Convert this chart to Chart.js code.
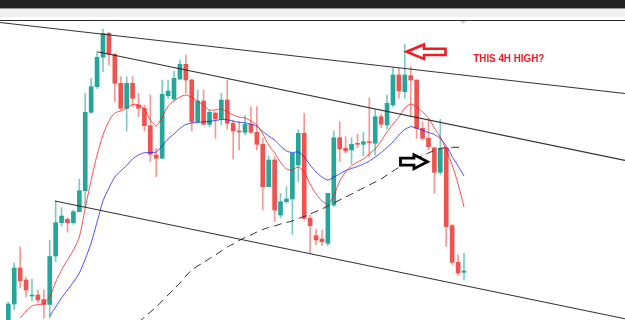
<!DOCTYPE html>
<html>
<head>
<meta charset="utf-8">
<script src="https://cdn.jsdelivr.net/npm/chart.js@4/dist/chart.umd.min.js"></script>
<style>
  body { margin: 0; background: #fff; }
  #wrap { position: relative; width: 625px; height: 320px; overflow: hidden; }
  #chart { position: absolute; left: 0; top: 0; }
  .hdr-dark { position: absolute; left: 0; top: 0; width: 625px; height: 8px; background: #232323; }
  .hdr-edge { position: absolute; left: 0; top: 8px; width: 625px; height: 1px; background: #9a9a9a; }
  .hdr-gray { position: absolute; left: 0; top: 9px; width: 625px; height: 8px; background: #efefef; }
  .hdr-line { position: absolute; left: 0; top: 20px; width: 625px; height: 1px; background: #2b2b2b; }
  .shift-mark { position: absolute; left: 460px; top: 21px; width: 0; height: 0;
    border-left: 3px solid transparent; border-right: 3px solid transparent; border-top: 3px solid #cfcfcf; }
</style>
</head>
<body>
<div id="wrap">
  <canvas id="chart" width="625" height="320"></canvas>
  <div class="hdr-dark"></div>
  <div class="hdr-edge"></div>
  <div class="hdr-gray"></div>
  <div class="hdr-line"></div>
  <div class="shift-mark"></div>
</div>
<script>
// price values in chart units (0 = bottom edge), one entry per 4H candle
const open = [-2, 16, 52, 40, 24, 25, 20.5, 15.5, 64, 97.3, 100.7, 97.3, 108.3, 129.3, 207.7, 233.3, 262.7, 286.7, 265.7, 236.7,
  211.7, 236.7, 215, 211.7, 194.3, 165, 161.7, 224.3, 221, 241, 255.7, 240, 198.3, 219, 195.7, 207, 201, 220, 196.7, 189,
  187.7, 195.7, 187.7, 175.7, 133.3, 160, 105, 118.3, 121, 155, 186.7, 101.7, 84.3, 81, 76.7, 115, 182.3, 171.7, 170, 176.3,
  175.7, 178.3, 176.7, 203.3, 195, 215, 245, 228.3, 244.3, 240, 191.7, 181.7, 172.3, 147.7, 171.7, 94.3, 57.7, 47.7];
const high = [18, 57, 73, 43, 41, 30, 30, 80, 119, 112.3, 102.3, 110, 141, 226.7, 241.7, 267.7, 291, 287.7, 266.7, 243.3,
  243.3, 243.3, 226.7, 215, 225, 171.7, 240, 240, 249, 260, 265, 241, 230, 230, 210, 207.7, 226.7, 240, 200, 198.3,
  204.3, 213.3, 213.3, 181.7, 164, 163.3, 126.7, 133.3, 166.7, 190, 206.7, 105, 91, 90, 126.7, 189, 198.3, 183.3, 182.3, 185.7,
  187.7, 222.3, 210, 205.7, 225, 252.3, 251.7, 275.7, 253.3, 240, 198.3, 200, 172.3, 200.7, 172.3, 95.7, 65, 66.7];
const low = [-4, 10, 32, 23, 19, 17, 2, 2, 58.3, 94, 87.7, 95.7, 108.3, 113.3, 206.7, 231.7, 248.3, 255, 218.3, 210,
  189, 213.3, 203.3, 189, 158.3, 143.3, 161.7, 221.7, 219, 240, 226.7, 189, 196.7, 195, 193.3, 181.7, 195, 191, 161, 170,
  185, 186.7, 170, 110, 133.3, 98.3, 102.3, 116.7, 85.7, 138.3, 100, 66.7, 75, 74.3, 74.3, 113.3, 158.3, 166.7, 155.7, 172.3,
  164.3, 163.3, 165, 192.3, 191, 213.3, 221.7, 221.7, 203.3, 181.7, 180, 170, 126.7, 145.7, 73.3, 55.7, 44.3, 40];
const close = [16, 52, 39, 30, 25, 20, 15.5, 63.5, 97.3, 104, 97.3, 108.3, 129.3, 207.7, 233.3, 262.7, 286.7, 265.7, 236.7, 211.7,
  236.7, 221.7, 211.7, 194.3, 165.7, 161.7, 225.7, 229, 241.7, 255.7, 240, 198.3, 219, 195.7, 207.7, 201, 220, 196.7, 189, 188,
  195.7, 187.7, 175.7, 133.3, 160, 110, 118.3, 121, 166.7, 186.7, 101.7, 94.3, 80, 78.3, 126.7, 182.3, 171, 169, 175.7, 175.7,
  178.3, 177.3, 203.3, 195.7, 216.7, 245, 229, 245, 240, 191.7, 181.7, 173.3, 147.7, 171.7, 93.3, 57.7, 47, 49];

// moving averages (null where not drawn)
const maFast = [null, null, 2, 9, 14, 15.5, 16.5, 23, 38, 50, 60, 70, 83, 112, 140, 165, 185, 199, 207, 209,
  212, 215.5, 215, 211, 200, 194, 203, 214, 219, 223, 225, 222.5, 219, 214.5, 210, 210, 211, 208, 205, 203,
  202, 199, 195, 186, 175, 167, 158, 151, 150, 153, 148, 136, 126, 119, 116, 124, 139, 148, 154, 158,
  161, 166, 171, 179, 188, 196, 203, 212, 216, 213, 208, 202, 192, 183, 170, 155, 136, 113];
const maSlow = [null, null, null, null, null, null, null, 4, 13, 22, 30, 38, 47, 61, 77, 98, 119, 132, 143, 149,
  154.5, 161, 165, 167.3, 167.3, 168, 174, 181, 186, 191.5, 195.5, 197, 197.7, 198.2, 198.7, 199.5, 200.5, 200.3, 198.8, 197.7,
  197.2, 196, 193.5, 188.5, 184, 180, 174, 169, 167.5, 168, 163, 155, 148, 143, 140, 143, 146, 149.5, 151.5, 153.5,
  156, 159, 163, 167.5, 172.5, 178, 185, 190.5, 193.3, 191.7, 189.7, 187.5, 185.5, 181.5, 174, 163.5, 154, 144];
const maLong = [null, null, null, null, null, null, null, null, null, null, null, null, null, null, null, null, null, null, null, null,
  null, null, -3, 3, 8, 13, 19, 25, 31, 37, 44, 50, 54, 57.5, 61.5, 65, 69, 73, 76, 79.5,
  82.5, 85, 88, 90.5, 92.5, 94, 96, 97.5, 99, 101.5, 103.5, 106, 108.5, 111, 114, 117, 120, 123, 126, 129,
  132, 135, 138, 141, 145, 149, 152.5, 155.5, 158.5, 161.5, 164.5, 167, 169.5, 171.5, 172.5, 172.7, 172.7, 172.7];

// hand drawn channel lines: [x1, y1, x2, y2] in candle index / price units
const trendLines = [
  [-1.4, 297.5, 104.2, 226.5],
  [15.04, 268.3, 104.2, 159.6],
  [7.89, 119, 104.2, 1.2]
];

// annotations (candle index, price)
const redArrowTip = [67.29, 268.3];
const blackArrowTip = [70.83, 158.3];
const noteAt = [78.57, 258.3];
const noteText = "THIS 4H HIGH?";

const UP = "#26a69a", DOWN = "#ef5350";
const UP_WICK = "rgba(38,166,154,0.6)", DOWN_WICK = "rgba(239,83,80,0.6)";

const isUp = open.map((o, i) => close[i] >= o);

const annotations = {
  id: "annotations",
  afterDatasetsDraw(chart) {
    const { ctx, scales: { x, y } } = chart;
    ctx.save();
    ctx.lineJoin = "miter";

    // red arrow, pointing left at the high
    let tx = x.getPixelForValue(redArrowTip[0]), ty = y.getPixelForValue(redArrowTip[1]);
    ctx.beginPath();
    ctx.moveTo(tx, ty);
    ctx.lineTo(tx + 17.5, ty - 7.2);
    ctx.lineTo(tx + 17.5, ty - 3);
    ctx.lineTo(tx + 39, ty - 3);
    ctx.lineTo(tx + 39, ty + 3.3);
    ctx.lineTo(tx + 17.5, ty + 3.3);
    ctx.lineTo(tx + 17.5, ty + 7.2);
    ctx.closePath();
    ctx.fillStyle = "#fff";
    ctx.fill();
    ctx.strokeStyle = "#ee1c25";
    ctx.lineWidth = 2.6;
    ctx.stroke();

    // black arrow, pointing right
    tx = x.getPixelForValue(blackArrowTip[0]); ty = y.getPixelForValue(blackArrowTip[1]);
    ctx.beginPath();
    ctx.moveTo(tx, ty);
    ctx.lineTo(tx - 13.5, ty - 7);
    ctx.lineTo(tx - 13.5, ty - 3.5);
    ctx.lineTo(tx - 27, ty - 3.5);
    ctx.lineTo(tx - 27, ty + 3.5);
    ctx.lineTo(tx - 13.5, ty + 3.5);
    ctx.lineTo(tx - 13.5, ty + 7);
    ctx.closePath();
    ctx.fill();
    ctx.strokeStyle = "#000";
    ctx.lineWidth = 2.8;
    ctx.stroke();

    // note text
    ctx.font = 'bold 11.5px "Liberation Sans", Arial, sans-serif';
    ctx.fillStyle = "#ee1c25";
    ctx.textBaseline = "alphabetic";
    const w = ctx.measureText(noteText).width;
    const nx = x.getPixelForValue(noteAt[0]), ny = y.getPixelForValue(noteAt[1]);
    ctx.translate(nx, ny);
    ctx.scale(71 / w, 1);
    ctx.fillText(noteText, 0, 0);
    ctx.restore();
  }
};

const pts = arr => arr.map((v, i) => ({ x: i, y: v }));
const lineStyle = { type: "line", pointRadius: 0, borderWidth: 1, tension: 0.25, fill: false };

new Chart(document.getElementById("chart"), {
  type: "bar",
  data: {
    datasets: [
      ...trendLines.map(t => ({
        ...lineStyle, tension: 0, order: 0,
        data: [{ x: t[0], y: t[1] }, { x: t[2], y: t[3] }],
        borderColor: "rgba(30,30,30,0.9)", borderWidth: 1.1
      })),
      { ...lineStyle, order: 1, data: pts(maFast), borderColor: "rgba(255,20,20,0.75)" },
      { ...lineStyle, order: 1, data: pts(maSlow), borderColor: "rgba(20,20,255,0.75)" },
      { ...lineStyle, order: 1, data: pts(maLong), borderColor: "#2a2a2a", borderDash: [8, 5] },
      {
        order: 3, grouped: false, barThickness: 4, minBarLength: 1, borderWidth: 0,
        data: open.map((o, i) => ({ x: i, y: [o, close[i]] })),
        backgroundColor: isUp.map(u => u ? UP : DOWN)
      },
      {
        order: 4, grouped: false, barThickness: 1, borderWidth: 0,
        data: open.map((o, i) => ({ x: i, y: [low[i], high[i]] })),
        backgroundColor: isUp.map(u => u ? UP_WICK : DOWN_WICK)
      }
    ]
  },
  options: {
    responsive: false,
    animation: false,
    devicePixelRatio: 1,
    layout: { padding: { top: 21, left: 0, right: 0, bottom: 0 } },
    plugins: { legend: { display: false }, tooltip: { enabled: false } },
    scales: {
      x: { type: "linear", min: -1.4025, max: 104.207, offset: false, display: false },
      y: { min: 0, max: 299, display: false }
    }
  },
  plugins: [annotations]
});
</script>
</body>
</html>
